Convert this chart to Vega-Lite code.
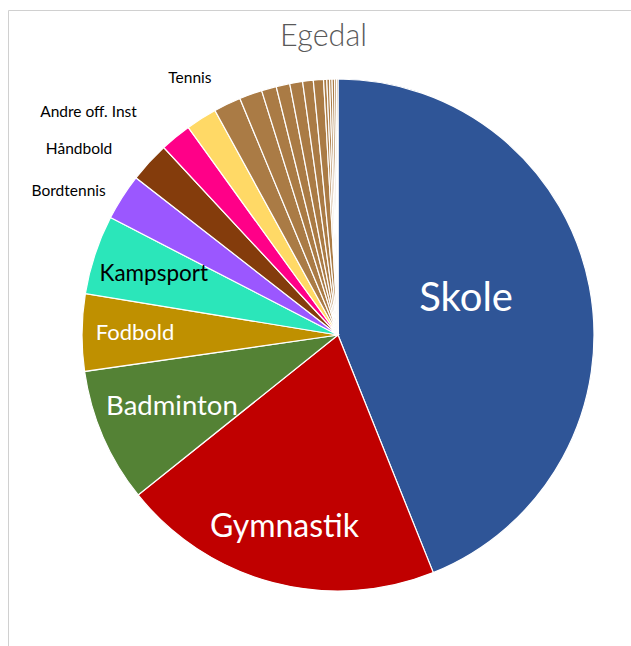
{
  "$schema": "https://vega.github.io/schema/vega-lite/v6.json",
  "autosize": "none",
  "width": 660,
  "height": 650,
  "padding": {"left": 8, "top": 10, "right": -37, "bottom": -14},
  "background": "white",
  "view": {"stroke": "#D0D0D0", "strokeWidth": 1, "fill": "white"},
  "title": {"text": "Egedal", "font": "Lato", "fontSize": 30.5, "fontWeight": 300, "color": "#595959", "anchor": "middle", "frame": "group", "baseline": "alphabetic", "offset": 0, "dx": -14.5, "dy": 66},
  "data": {"values": [
    {"cat": "Skole", "value": 43.94, "idx": 1},
    {"cat": "Gymnastik", "value": 20.33, "idx": 2},
    {"cat": "Badminton", "value": 8.47, "idx": 3},
    {"cat": "Fodbold", "value": 4.86, "idx": 4},
    {"cat": "Kampsport", "value": 5.0, "idx": 5},
    {"cat": "Bordtennis", "value": 2.94, "idx": 6},
    {"cat": "Håndbold", "value": 2.56, "idx": 7},
    {"cat": "Andre off. Inst", "value": 1.97, "idx": 8},
    {"cat": "Tennis", "value": 1.97, "idx": 9},
    {"cat": "Øvrig 1", "value": 1.72, "idx": 10},
    {"cat": "Øvrig 2", "value": 1.44, "idx": 11},
    {"cat": "Øvrig 3", "value": 0.94, "idx": 12},
    {"cat": "Øvrig 4", "value": 0.86, "idx": 13},
    {"cat": "Øvrig 5", "value": 0.81, "idx": 14},
    {"cat": "Øvrig 6", "value": 0.67, "idx": 15},
    {"cat": "Øvrig 7", "value": 0.64, "idx": 16},
    {"cat": "Øvrig 8", "value": 0.2, "idx": 17},
    {"cat": "Øvrig 9", "value": 0.175, "idx": 18},
    {"cat": "Øvrig 10", "value": 0.155, "idx": 19},
    {"cat": "Øvrig 11", "value": 0.155, "idx": 20},
    {"cat": "Øvrig 12", "value": 0.12, "idx": 21},
    {"cat": "Øvrig 13", "value": 0.095, "idx": 22}
  ]},
  "encoding": {
    "theta": {"field": "value", "type": "quantitative", "stack": true},
    "order": {"field": "idx", "type": "quantitative", "sort": "ascending"}
  },
  "layer": [
    {
      "mark": {"type": "arc", "outerRadius": 256, "stroke": "white", "strokeWidth": 1.2},
      "encoding": {
        "color": {"field": "cat", "type": "nominal", "legend": null,
          "scale": {
            "domain": ["Skole", "Gymnastik", "Badminton", "Fodbold", "Kampsport", "Bordtennis", "Håndbold", "Andre off. Inst", "Tennis", "Øvrig 1", "Øvrig 2", "Øvrig 3", "Øvrig 4", "Øvrig 5", "Øvrig 6", "Øvrig 7", "Øvrig 8", "Øvrig 9", "Øvrig 10", "Øvrig 11", "Øvrig 12", "Øvrig 13"],
            "range": ["#2F5597", "#C00000", "#548235", "#BF9000", "#2BE6BA", "#9B57FF", "#843C0C", "#FF0088", "#FFD966", "#AA7B45", "#AA7B45", "#AA7B45", "#AA7B45", "#AA7B45", "#AA7B45", "#AA7B45", "#AA7B45", "#AA7B45", "#AA7B45", "#AA7B45", "#AA7B45", "#AA7B45"]
          }}
      }
    },
    {
      "mark": {"type": "text", "radius": 132.5, "font": "Lato", "fontSize": 40, "color": "white", "align": "center", "baseline": "middle", "dx": -2, "dy": -11},
      "encoding": {"text": {"condition": {"test": "datum.cat === 'Skole'", "field": "cat"}, "value": ""}}
    },
    {
      "mark": {"type": "text", "radius": 198.5, "font": "Lato", "fontSize": 32, "color": "white", "align": "center", "baseline": "middle", "dx": -3, "dy": 0},
      "encoding": {"text": {"condition": {"test": "datum.cat === 'Gymnastik'", "field": "cat"}, "value": ""}}
    },
    {
      "mark": {"type": "text", "radius": 181, "font": "Lato", "fontSize": 27.5, "color": "white", "align": "center", "baseline": "middle"},
      "encoding": {"text": {"condition": {"test": "datum.cat === 'Badminton'", "field": "cat"}, "value": ""}}
    },
    {
      "mark": {"type": "text", "radius": 203, "font": "Lato", "fontSize": 22, "color": "white", "align": "center", "baseline": "middle"},
      "encoding": {"text": {"condition": {"test": "datum.cat === 'Fodbold'", "field": "cat"}, "value": ""}}
    },
    {
      "mark": {"type": "text", "radius": 194, "font": "Lato", "fontSize": 22.5, "color": "black", "align": "center", "baseline": "middle"},
      "encoding": {"text": {"condition": {"test": "datum.cat === 'Kampsport'", "field": "cat"}, "value": ""}}
    },
    {
      "mark": {"type": "text", "radius": 273.3, "font": "Lato", "fontSize": 15.5, "color": "black", "align": "right", "baseline": "middle", "dx": -2, "dy": 3},
      "encoding": {"text": {"condition": {"test": "datum.cat === 'Bordtennis'", "field": "cat"}, "value": ""}}
    },
    {
      "mark": {"type": "text", "radius": 292, "font": "Lato", "fontSize": 15.5, "color": "black", "align": "right", "baseline": "middle", "dx": -10.4, "dy": 11.7},
      "encoding": {"text": {"condition": {"test": "datum.cat === 'Håndbold'", "field": "cat"}, "value": ""}}
    },
    {
      "mark": {"type": "text", "radius": 300, "font": "Lato", "fontSize": 15.5, "color": "black", "align": "right", "baseline": "middle", "dx": -10.9, "dy": 9.3},
      "encoding": {"text": {"condition": {"test": "datum.cat === 'Andre off. Inst'", "field": "cat"}, "value": ""}}
    },
    {
      "mark": {"type": "text", "radius": 296.6, "font": "Lato", "fontSize": 15.5, "color": "black", "align": "center", "baseline": "middle", "dx": 10.3, "dy": -6.1},
      "encoding": {"text": {"condition": {"test": "datum.cat === 'Tennis'", "field": "cat"}, "value": ""}}
    }
  ]
}
